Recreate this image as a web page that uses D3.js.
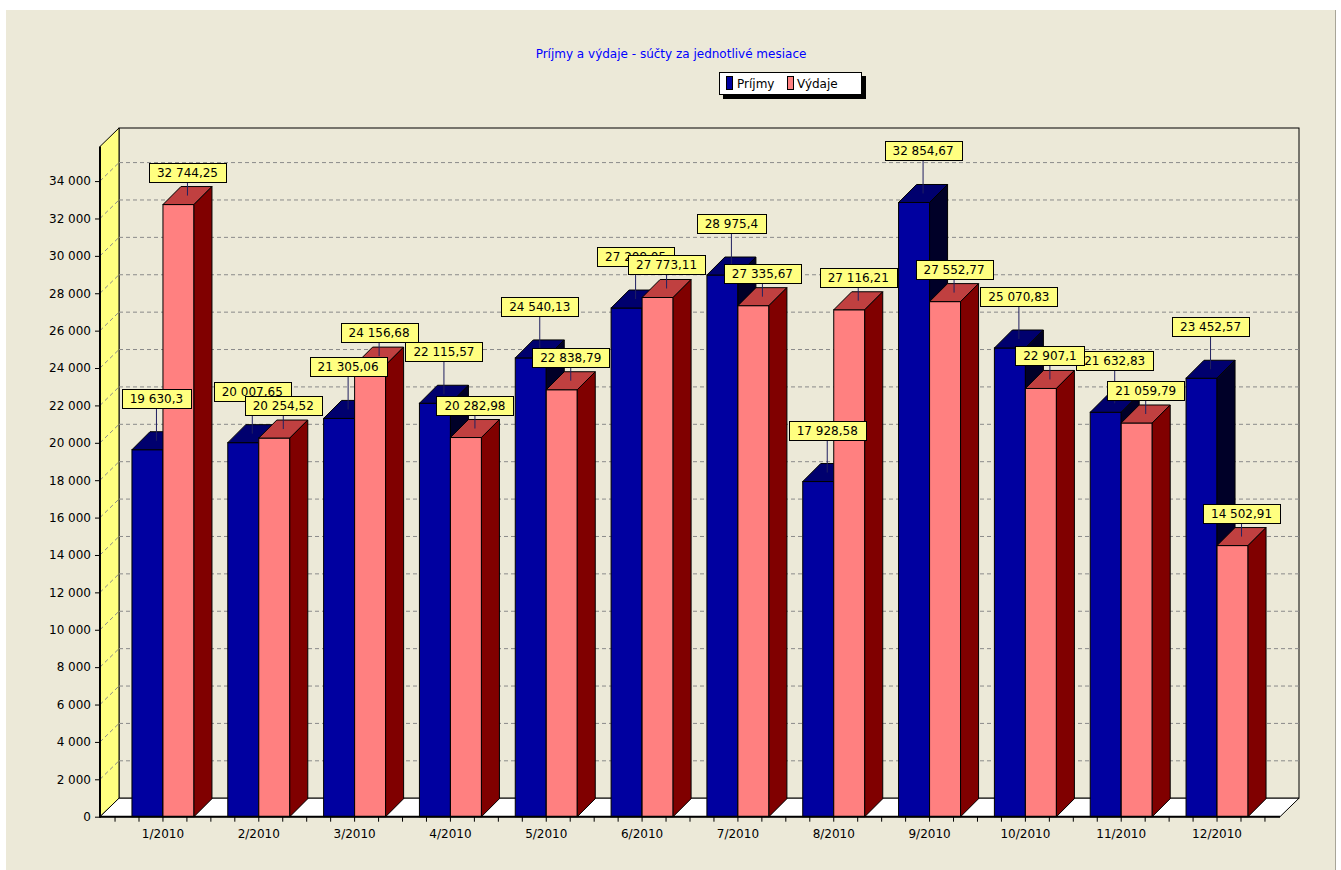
<!DOCTYPE html>
<html>
<head>
<meta charset="utf-8">
<script src="https://cdn.jsdelivr.net/npm/d3@7"></script>
<style>
  html, body { margin: 0; padding: 0; background: #ffffff; }
  svg { display: block; }
  text { font-family: "DejaVu Sans", Verdana, sans-serif; }
</style>
</head>
<body>
<svg id="chart" width="1341" height="870"></svg>
<script>
const titleText = "Príjmy a výdaje - súčty za jednotlivé mesiace";
const categories = ["1/2010","2/2010","3/2010","4/2010","5/2010","6/2010","7/2010","8/2010","9/2010","10/2010","11/2010","12/2010"];
const seriesNames = ["Príjmy", "Výdaje"];
const prijmy = [19630.3, 20007.65, 21305.06, 22115.57, 24540.13, 27209.05, 28975.4, 17928.58, 32854.67, 25070.83, 21632.83, 23452.57];
const vydaje = [32744.25, 20254.52, 24156.68, 20282.98, 22838.79, 27773.11, 27335.67, 27116.21, 27552.77, 22907.1, 21059.79, 14502.91];
const yTicks = [0,2000,4000,6000,8000,10000,12000,14000,16000,18000,20000,22000,24000,26000,28000,30000,32000,34000];
const yMax = 35850;

(function () {
const svg = d3.select("#chart");
const W = 1341, H = 870;

// layout
const pLeft = 100, pRight = 1280, pBottom = 816.7, pTop = 146.5;
const wdx = 19, wdy = -18.5;   // wall depth
const bdx = 18, bdy = -18;     // bar depth
const barW = 31;

const x = d3.scaleBand().domain(categories).range([pLeft, pRight]).paddingInner(0).paddingOuter(0.157);
const y = d3.scaleLinear().domain([0, yMax]).range([pBottom, pTop]);

const fmt = v => {
  const parts = String(v).split(".");
  const intPart = parts[0].replace(/\B(?=(\d{3})+(?!\d))/g, " ");
  return parts.length > 1 ? intPart + "," + parts[1] : intPart;
};

// panel
svg.append("rect").attr("x", 0).attr("y", 0).attr("width", W).attr("height", H).attr("fill", "#ffffff");
svg.append("rect").attr("x", 6).attr("y", 10).attr("width", 1329).attr("height", 860).attr("fill", "#ECE9D8");
svg.append("line").attr("x1", 1335.5).attr("x2", 1335.5).attr("y1", 10).attr("y2", 870).attr("stroke", "#A8A598").attr("stroke-width", 1);

// title
svg.append("text").attr("x", 671).attr("y", 58).attr("text-anchor", "middle")
  .attr("font-size", 12).attr("fill", "#0000FF").text(titleText);

// legend
const lg = svg.append("g");
lg.append("rect").attr("x", 723).attr("y", 76).attr("width", 143).attr("height", 23).attr("fill", "#000");
lg.append("rect").attr("x", 719.5).attr("y", 72.5).attr("width", 142).attr("height", 22).attr("fill", "#fff").attr("stroke", "#000").attr("stroke-width", 1);
const legendItems = [
  { name: seriesNames[0], color: "#0000A0", sx: 726.5, tx: 737 },
  { name: seriesNames[1], color: "#FF8080", sx: 787.5, tx: 797 }
];
legendItems.forEach(it => {
  lg.append("rect").attr("x", it.sx).attr("y", 76.5).attr("width", 6).attr("height", 13)
    .attr("fill", it.color).attr("stroke", "#000").attr("stroke-width", 1);
  lg.append("text").attr("x", it.tx).attr("y", 88).attr("font-size", 12).attr("fill", "#000").text(it.name);
});

// walls
const g = svg.append("g");
g.append("rect").attr("x", pLeft + wdx).attr("y", pTop + wdy).attr("width", pRight - pLeft).attr("height", pBottom - pTop)
  .attr("fill", "#ECE9D8").attr("stroke", "#000").attr("stroke-width", 1);
g.append("path").attr("d", `M${pLeft},${pTop} L${pLeft + wdx},${pTop + wdy} L${pLeft + wdx},${pBottom + wdy} L${pLeft},${pBottom} Z`)
  .attr("fill", "#FFFF80").attr("stroke", "#000").attr("stroke-width", 1);
g.append("path").attr("d", `M${pLeft},${pBottom} L${pLeft + wdx},${pBottom + wdy} L${pRight + wdx},${pBottom + wdy} L${pRight},${pBottom} Z`)
  .attr("fill", "#FFFFFF").attr("stroke", "#000").attr("stroke-width", 1);

// gridlines
yTicks.filter(t => t > 0).forEach(t => {
  const yy = y(t);
  g.append("line").attr("x1", pLeft + wdx).attr("x2", pRight + wdx).attr("y1", yy + wdy).attr("y2", yy + wdy)
    .attr("stroke", "#8A8A8A").attr("stroke-width", 1).attr("stroke-dasharray", "4,3");
  g.append("line").attr("x1", pLeft).attr("x2", pLeft + wdx).attr("y1", yy).attr("y2", yy + wdy)
    .attr("stroke", "#8A8A8A").attr("stroke-width", 1).attr("stroke-dasharray", "4,3");
});

// y axis
const yAxis = d3.axisLeft(y).tickValues(yTicks).tickSize(5).tickPadding(4).tickFormat(d => fmt(d));
const yg = svg.append("g").attr("transform", `translate(${pLeft},0)`).call(yAxis);
yg.select(".domain").remove();
yg.selectAll("text").attr("font-size", 12).attr("font-family", "DejaVu Sans, Verdana, sans-serif").attr("fill", "#000");
yg.selectAll("line").attr("stroke", "#000");
svg.append("line").attr("x1", pLeft).attr("x2", pLeft).attr("y1", pTop).attr("y2", pBottom + 1)
  .attr("stroke", "#000").attr("stroke-width", 2);

// bars
const series = [
  { values: prijmy, off: -barW, front: "#0000A0", topc: "#00006E", side: "#000028" },
  { values: vydaje, off: 0, front: "#FF8080", topc: "#C04040", side: "#800000" }
];
const bars = svg.append("g");
categories.forEach((c, i) => {
  const cx = x(c) + x.bandwidth() / 2;
  series.forEach(s => {
    const v = s.values[i];
    const x0 = cx + s.off, x1 = x0 + barW;
    const y0 = y(v), yb = y(0);
    const bg = bars.append("g");
    bg.append("rect").attr("x", x0).attr("y", y0).attr("width", barW).attr("height", yb - y0)
      .attr("fill", s.front).attr("stroke", "#000").attr("stroke-width", 1);
    bg.append("path").attr("d", `M${x0},${y0} L${x0 + bdx},${y0 + bdy} L${x1 + bdx},${y0 + bdy} L${x1},${y0} Z`)
      .attr("fill", s.topc).attr("stroke", "#000").attr("stroke-width", 1);
    bg.append("path").attr("d", `M${x1},${y0} L${x1 + bdx},${y0 + bdy} L${x1 + bdx},${yb + bdy} L${x1},${yb} Z`)
      .attr("fill", s.side).attr("stroke", "#000").attr("stroke-width", 1);
  });
});

// x axis
svg.append("line").attr("x1", pLeft).attr("x2", pRight).attr("y1", pBottom).attr("y2", pBottom)
  .attr("stroke", "#000").attr("stroke-width", 2);
const xt = svg.append("g");
categories.forEach((c, i) => {
  for (let k = 0; k <= 4; k++) {
    if (i > 0 && k === 0) continue;
    const tx = x(c) + k * x.bandwidth() / 4;
    xt.append("line").attr("x1", tx).attr("x2", tx).attr("y1", pBottom).attr("y2", pBottom + 5)
      .attr("stroke", "#000").attr("stroke-width", 1);
  }
  xt.append("text").attr("x", x(c) + x.bandwidth() / 2).attr("y", 838).attr("text-anchor", "middle")
    .attr("font-size", 12).attr("fill", "#000").text(c);
});

// value labels: all Príjmy first, then Výdaje
const labels = svg.append("g");
const labelGap = [33, 14];
series.forEach((s, si) => {
  categories.forEach((c, i) => {
    const v = s.values[i];
    const cx = x(c) + x.bandwidth() / 2;
    const fx = cx + s.off + barW / 2 + bdx / 2;
    const fy = y(v) + bdy / 2;
    const boxBottom = fy - labelGap[si];
    const lgp = labels.append("g");
    lgp.append("line").attr("x1", fx).attr("x2", fx).attr("y1", fy).attr("y2", boxBottom)
      .attr("stroke", "#202060").attr("stroke-width", 1);
    const t = lgp.append("text").attr("x", fx).attr("y", boxBottom - 5).attr("text-anchor", "middle")
      .attr("font-size", 12).attr("fill", "#000").text(fmt(v));
    const tw = t.node().getComputedTextLength();
    const bw = Math.round(tw + 16);
    lgp.insert("rect", "text").attr("x", Math.round(fx - bw / 2) + 0.5).attr("y", Math.round(boxBottom - 19) + 0.5)
      .attr("width", bw).attr("height", 19).attr("fill", "#FFFF80").attr("stroke", "#000").attr("stroke-width", 1);
  });
});
})();
</script>
</body>
</html>
